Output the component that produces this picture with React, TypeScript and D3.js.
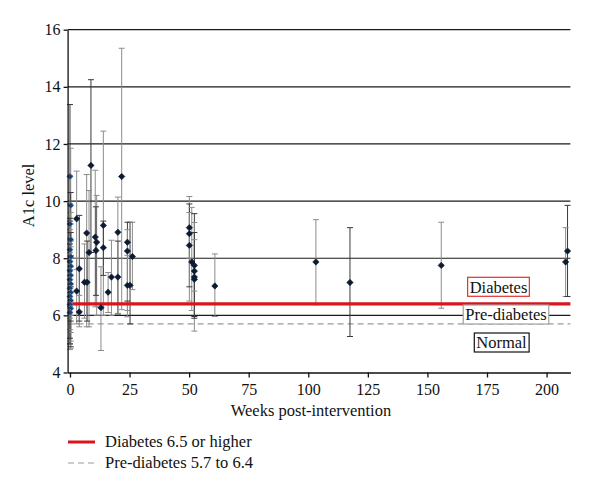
import React, { useEffect, useRef } from "react";
import * as d3 from "d3";

// ---- data (weeks post-intervention, A1c mean, lower, upper) ----
const weeks = [
  0, 0.3, 0, 0.3, 0, 0.3, 0, 0.3, 0, 0.3, 0, 0.3, 0, 0.3, 0, 0.3, 0, 0.3, 0,
  2.8, 2.8, 3.9, 3.9, 6.1, 7.2, 7.0, 8.0, 8.8, 10.6, 11.2, 10.9, 13.0, 14.0, 14.0,
  16.0, 17.4, 20.1, 20.1, 21.7, 24.1, 24.1, 24.1, 25.2, 26.2,
  50.1, 50.1, 50.1, 51.1, 52.2, 52.2, 52.2, 52.2, 60.8,
  103.2, 117.5, 155.8, 208.0, 208.8,
];
const a1c = [
  10.86, 9.85, 9.2, 8.65, 8.3, 8.05, 7.88, 7.72, 7.56, 7.4, 7.25, 7.1, 6.95, 6.8, 6.66, 6.52, 6.38, 6.24, 6.1,
  9.38, 6.85, 7.63, 6.12, 7.16, 7.16, 8.88, 8.2, 11.25, 8.74, 8.56, 8.27, 6.27, 9.15, 8.37,
  6.81, 7.34, 7.34, 8.91, 10.86, 8.56, 8.25, 7.05, 7.05, 8.06,
  9.07, 8.86, 8.45, 7.87, 7.75, 7.55, 7.34, 7.26, 7.03,
  7.87, 7.15, 7.75, 7.87, 8.25,
];
const lower = [
  9.3, 8.0, 7.6, 7.0, 6.8, 6.4, 6.3, 6.0, 5.9, 5.8, 5.5, 5.4, 5.2, 5.1, 5.0, 4.9, 4.8, 4.85, 5.0,
  7.6, 5.7, 5.8, 5.6, 5.9, 5.8, 5.6, 5.6, 8.2, 6.3, 6.0, 6.7, 4.77, 6.0, 7.4,
  6.1, 6.0, 6.05, 6.07, 6.2, 6.5, 6.17, 5.95, 5.7, 6.9,
  8.0, 7.0, 6.5, 6.17, 5.96, 5.45, 6.85, 5.9, 5.96,
  6.37, 5.26, 6.25, 6.66, 6.66,
];
const upper = [
  13.38, 11.85, 10.9, 10.3, 9.9, 9.6, 9.4, 9.2, 9.0, 8.9, 8.7, 8.6, 8.5, 8.4, 8.2, 8.1, 7.9, 7.7, 7.4,
  11.05, 8.0, 9.5, 6.7, 8.5, 8.6, 10.93, 10.37, 14.25, 11.08, 10.2, 9.8, 7.7, 12.45, 9.3,
  7.5, 8.63, 8.6, 10.14, 15.35, 9.26, 9.0, 8.1, 9.26, 9.26,
  10.16, 9.9, 9.6, 9.78, 9.56, 9.25, 8.65, 8.9, 8.15,
  9.35, 9.07, 9.26, 9.07, 9.85,
];

const xTicks = [0, 25, 50, 75, 100, 125, 150, 175, 200];
const yTicks = [4, 6, 8, 10, 12, 14, 16];
const gridValues = [6, 8, 10, 12, 14, 16];
const diabetesThreshold = 6.4;
const preDiabetesThreshold = 5.7;
const zoneLabels = ["Diabetes", "Pre-diabetes", "Normal"];
const zoneValues = [7.0, 6.03, 5.05];
const legendLabels = ["Diabetes 6.5 or higher", "Pre-diabetes 5.7 to 6.4"];
const xTitle = "Weeks post-intervention";
const yTitle = "A1c level";

const FONT = "Liberation Serif, Times New Roman, DejaVu Serif, serif";

export default function App() {
  const ref = useRef<SVGSVGElement>(null);

  useEffect(() => {
    const svg = d3.select(ref.current);
    svg.selectAll("*").remove();

    const x = d3.scaleLinear().domain([-1, 210]).range([67.6, 570.4]);
    const y = d3.scaleLinear().domain([4, 16]).range([372.5, 29.7]);
    const [x0, x1] = x.range();

    const txt = (sel: any, size: number) =>
      sel.style("font-family", FONT).style("font-size", `${size}px`).attr("fill", "#111");

    // gridlines
    svg
      .append("g")
      .selectAll("line")
      .data(gridValues)
      .join("line")
      .attr("x1", x0)
      .attr("x2", x1)
      .attr("y1", (d) => y(d))
      .attr("y2", (d) => y(d))
      .attr("stroke", "#1a1a1a")
      .attr("stroke-width", 1.2);

    // pre-diabetes dashed line
    svg
      .append("line")
      .attr("x1", x0)
      .attr("x2", x1)
      .attr("y1", y(preDiabetesThreshold))
      .attr("y2", y(preDiabetesThreshold))
      .attr("stroke", "#9a9a9a")
      .attr("stroke-width", 1.2)
      .attr("stroke-dasharray", "6,4");

    // error bars
    const idx = d3.range(weeks.length);
    const barColor = (i: number) => (i % 3 === 0 ? "#3a3a3a" : "#8c8c8c");
    const eb = svg.append("g");
    eb.selectAll("line.v")
      .data(idx)
      .join("line")
      .attr("class", "v")
      .attr("x1", (i) => x(weeks[i]))
      .attr("x2", (i) => x(weeks[i]))
      .attr("y1", (i) => y(lower[i]))
      .attr("y2", (i) => y(upper[i]))
      .attr("stroke", barColor)
      .attr("stroke-width", 1);
    eb.selectAll("line.t")
      .data(idx)
      .join("line")
      .attr("class", "t")
      .attr("x1", (i) => x(weeks[i]) - 3)
      .attr("x2", (i) => x(weeks[i]) + 3)
      .attr("y1", (i) => y(upper[i]))
      .attr("y2", (i) => y(upper[i]))
      .attr("stroke", barColor)
      .attr("stroke-width", 1);
    eb.selectAll("line.b")
      .data(idx)
      .join("line")
      .attr("class", "b")
      .attr("x1", (i) => x(weeks[i]) - 3)
      .attr("x2", (i) => x(weeks[i]) + 3)
      .attr("y1", (i) => y(lower[i]))
      .attr("y2", (i) => y(lower[i]))
      .attr("stroke", barColor)
      .attr("stroke-width", 1);

    // diabetes threshold (red)
    svg
      .append("line")
      .attr("x1", x0)
      .attr("x2", x1)
      .attr("y1", y(diabetesThreshold))
      .attr("y2", y(diabetesThreshold))
      .attr("stroke", "#d9141b")
      .attr("stroke-width", 3.2);

    // points
    const sym = d3.symbol().type(d3.symbolDiamond2).size(26);
    svg
      .append("g")
      .selectAll("path")
      .data(idx)
      .join("path")
      .attr("d", sym as any)
      .attr("transform", (i) => `translate(${x(weeks[i])},${y(a1c[i])})`)
      .attr("fill", (i) => (weeks[i] < 1 ? "#1d3d6a" : "#0c1a33"))
      .attr("stroke", (i) => (weeks[i] < 1 ? "#6f9fd6" : "#0c1a33"))
      .attr("stroke-width", 0.6);

    // axes
    const xAxis = svg
      .append("g")
      .attr("transform", `translate(0,${y(4)})`)
      .call(d3.axisBottom(x).tickValues(xTicks).tickSize(5).tickSizeOuter(0));
    const yAxis = svg
      .append("g")
      .attr("transform", `translate(${x0},0)`)
      .call(d3.axisLeft(y).tickValues(yTicks).tickSize(4).tickSizeOuter(0));
    [xAxis, yAxis].forEach((g) => {
      g.attr("font-family", null).attr("font-size", null);
      g.selectAll("path,line").attr("stroke", "#111").attr("stroke-width", 1.3);
      txt(g.selectAll("text"), 16);
    });
    xAxis.selectAll("text").attr("dy", "1.0em").attr("y", 6);
    yAxis.selectAll("text").attr("x", -7);

    // titles
    txt(
      svg
        .append("text")
        .attr("x", 311)
        .attr("y", 416)
        .attr("text-anchor", "middle")
        .text(xTitle),
      16.5
    );
    txt(
      svg
        .append("text")
        .attr("transform", `translate(34,${y(10.2)}) rotate(-90)`)
        .attr("text-anchor", "middle")
        .text(yTitle),
      16.5
    );

    // zone labels with boxes
    const boxStroke = ["#e0312f", "#a0a0a0", "#111"];
    const zoneCenterX = [498.5, 506, 501.5];
    zoneLabels.forEach((lab, i) => {
      const g = svg.append("g");
      const t = txt(
        g
          .append("text")
          .attr("x", zoneCenterX[i])
          .attr("y", y(zoneValues[i]))
          .attr("dy", "0.35em")
          .attr("text-anchor", "middle")
          .text(lab),
        16.5
      );
      const bb = (t.node() as SVGTextElement).getBBox();
      g.insert("rect", "text")
        .attr("x", bb.x - 2)
        .attr("y", y(zoneValues[i]) - 9.5)
        .attr("width", bb.width + 4)
        .attr("height", 19)
        .attr("fill", "#fff")
        .attr("stroke", boxStroke[i])
        .attr("stroke-width", 1.2);
    });

    // legend
    const legY = [442, 463];
    legendLabels.forEach((lab, i) => {
      svg
        .append("line")
        .attr("x1", 68)
        .attr("x2", 95)
        .attr("y1", legY[i])
        .attr("y2", legY[i])
        .attr("stroke", i === 0 ? "#d9141b" : "#9a9a9a")
        .attr("stroke-width", i === 0 ? 3 : 1.2)
        .attr("stroke-dasharray", i === 0 ? null : "6,4");
      txt(
        svg
          .append("text")
          .attr("x", 105)
          .attr("y", legY[i])
          .attr("dy", "0.33em")
          .text(lab),
        16.5
      );
    });
  }, []);

  return (
    <svg
      ref={ref}
      width={600}
      height={496}
      style={{ position: "absolute", left: 0, top: 0, background: "#fff" }}
    />
  );
}
